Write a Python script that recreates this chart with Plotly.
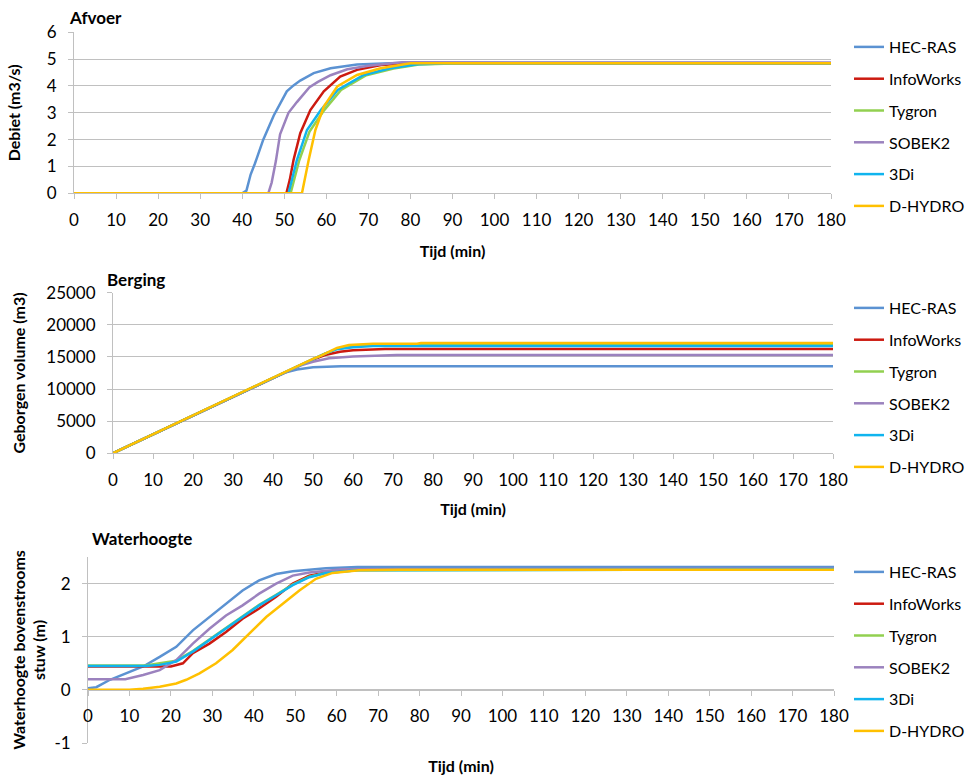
import plotly.graph_objects as go

W, H = 972, 775

series_names = ["HEC-RAS", "InfoWorks", "Tygron", "SOBEK2", "3Di", "D-HYDRO"]
series_colors = ["#5B92D2", "#CC1A10", "#92D050", "#9B82BE", "#10B4EE", "#FFC000"]
x_ticks = list(range(0, 181, 10))

# ---- Afvoer (Debiet m3/s) ----
afvoer_t_hecras = [0, 40, 41, 42, 43, 45, 47.5, 50.6, 52.2, 53.8, 57, 61, 67.3, 75, 85, 180]
afvoer_q_hecras = [0, 0, 0.1, 0.7, 1.1, 2.0, 2.9, 3.8, 4.02, 4.2, 4.48, 4.66, 4.8, 4.85, 4.87, 4.85]
afvoer_t_infoworks = [0, 50.5, 51.3, 52.2, 53.8, 56.2, 59.4, 63.3, 67.3, 73, 80, 180]
afvoer_q_infoworks = [0, 0, 0.5, 1.24, 2.24, 3.1, 3.8, 4.35, 4.6, 4.78, 4.85, 4.85]
afvoer_t_tygron = [0, 51.5, 53.5, 56, 59.5, 63.5, 69.5, 76, 82, 92, 180]
afvoer_q_tygron = [0, 0, 1.2, 2.3, 3.1, 3.85, 4.4, 4.65, 4.8, 4.85, 4.85]
afvoer_t_sobek2 = [0, 46.2, 47, 48, 49, 50, 51, 53, 56, 58, 61, 65, 70, 78, 180]
afvoer_q_sobek2 = [0, 0, 0.4, 1.2, 2.2, 2.6, 3.0, 3.4, 3.95, 4.15, 4.4, 4.62, 4.75, 4.88, 4.87]
afvoer_t_3di = [0, 51, 53, 55.4, 58.7, 62.7, 68.9, 75.2, 81.6, 90, 180]
afvoer_q_3di = [0, 0, 1.24, 2.36, 3.1, 3.85, 4.41, 4.66, 4.81, 4.85, 4.85]
afvoer_t_dhydro = [0, 54.2, 55.8, 57.4, 59.4, 62.6, 67.3, 72.9, 80, 180]
afvoer_q_dhydro = [0, 0, 1.24, 2.36, 3.23, 3.98, 4.41, 4.66, 4.85, 4.85]

# ---- Berging (Geborgen volume m3) ----
berging_t_hecras = [0, 10, 20, 30, 40, 43, 46, 50, 53, 57, 180]
berging_v_hecras = [0, 2950, 5850, 8750, 11700, 12550, 13050, 13400, 13500, 13550, 13550]
berging_t_infoworks = [0, 10, 20, 30, 40, 50, 53, 56.75, 60, 68, 180]
berging_v_infoworks = [0, 2950, 5850, 8750, 11700, 14600, 15300, 15800, 16050, 16250, 16250]
berging_t_tygron = [0, 10, 20, 30, 40, 50, 53, 56, 60, 65, 180]
berging_v_tygron = [0, 2950, 5850, 8750, 11700, 14650, 15500, 16250, 16600, 16850, 16850]
berging_t_sobek2 = [0, 10, 20, 30, 40, 47, 50, 54, 60, 71, 180]
berging_v_sobek2 = [0, 2950, 5850, 8750, 11700, 13700, 14250, 14780, 15050, 15300, 15300]
berging_t_3di = [0, 10, 20, 30, 40, 50, 53, 56, 60, 65, 180]
berging_v_3di = [0, 2950, 5850, 8750, 11700, 14650, 15500, 16200, 16500, 16700, 16700]
berging_t_dhydro = [0, 10, 20, 30, 40, 50, 52, 56, 59, 65, 76, 77, 180]
berging_v_dhydro = [0, 2950, 5850, 8750, 11700, 14700, 15200, 16400, 16850, 17050, 17050, 17150, 17150]

# ---- Waterhoogte (m) ----
water_t_hecras = [0, 2, 5.3, 9, 13.3, 17.3, 21.3, 25.3, 29.3, 33.3, 37.3, 41.3, 45.4, 49.4, 53, 57.4, 65, 180]
water_h_hecras = [0.03, 0.05, 0.19, 0.3, 0.44, 0.62, 0.81, 1.12, 1.37, 1.62, 1.87, 2.06, 2.18, 2.23, 2.26, 2.29, 2.31, 2.31]
water_t_infoworks = [0, 20, 22.9, 25.3, 29.3, 33.3, 37.3, 41.3, 45.4, 49.4, 53.4, 57.4, 65, 180]
water_h_infoworks = [0.44, 0.44, 0.5, 0.69, 0.87, 1.09, 1.34, 1.53, 1.75, 2.0, 2.15, 2.21, 2.26, 2.27]
water_t_tygron = [0, 14, 17.3, 21.3, 25.3, 29.3, 33.3, 37.3, 41.3, 45.4, 49.4, 53.4, 57.4, 65, 180]
water_h_tygron = [0.46, 0.46, 0.5, 0.55, 0.73, 0.95, 1.16, 1.38, 1.6, 1.79, 1.98, 2.13, 2.2, 2.25, 2.27]
water_t_sobek2 = [0, 9, 13.3, 17.3, 21.3, 25.3, 29.3, 33.3, 37.3, 41.3, 45.4, 49.4, 53.4, 61.4, 180]
water_h_sobek2 = [0.2, 0.2, 0.28, 0.37, 0.56, 0.87, 1.15, 1.40, 1.59, 1.81, 2.0, 2.15, 2.21, 2.27, 2.28]
water_t_3di = [0, 14, 17.3, 21.3, 25.3, 29.3, 33.3, 37.3, 41.3, 45.4, 49.4, 53.4, 57.4, 65, 180]
water_h_3di = [0.45, 0.45, 0.47, 0.53, 0.72, 0.94, 1.15, 1.37, 1.59, 1.78, 1.97, 2.12, 2.2, 2.25, 2.27]
water_t_dhydro = [0, 10, 13.3, 17.3, 21.3, 23.7, 26.9, 30.9, 34.9, 38.9, 43, 47, 51, 55, 59, 65.4, 75, 180]
water_h_dhydro = [0, 0, 0.02, 0.06, 0.12, 0.19, 0.31, 0.5, 0.75, 1.06, 1.37, 1.62, 1.87, 2.09, 2.2, 2.25, 2.26, 2.26]

water_ticks = [-1, 0, 1, 2]
water_ticktext = ["-1", "0", "1", "2"]

afvoer = [(afvoer_t_hecras, afvoer_q_hecras), (afvoer_t_infoworks, afvoer_q_infoworks),
          (afvoer_t_tygron, afvoer_q_tygron), (afvoer_t_sobek2, afvoer_q_sobek2),
          (afvoer_t_3di, afvoer_q_3di), (afvoer_t_dhydro, afvoer_q_dhydro)]
berging = [(berging_t_hecras, berging_v_hecras), (berging_t_infoworks, berging_v_infoworks),
           (berging_t_tygron, berging_v_tygron), (berging_t_sobek2, berging_v_sobek2),
           (berging_t_3di, berging_v_3di), (berging_t_dhydro, berging_v_dhydro)]
water = [(water_t_hecras, water_h_hecras), (water_t_infoworks, water_h_infoworks),
         (water_t_tygron, water_h_tygron), (water_t_sobek2, water_h_sobek2),
         (water_t_3di, water_h_3di), (water_t_dhydro, water_h_dhydro)]

FONT = "Lato, Carlito, Calibri, sans-serif"
GRID = "#C0C0C0"

def px_x(p):
    return p / W

def px_y(p):
    return (H - p) / H

fig = go.Figure()
panels = [(afvoer, "x", "y", "legend"), (berging, "x2", "y2", "legend2"), (water, "x3", "y3", "legend3")]
for data, xa, ya, lg in panels:
    for i, (t, v) in enumerate(data):
        fig.add_trace(go.Scatter(
            x=t, y=v, mode="lines", name=series_names[i],
            line=dict(color=series_colors[i], width=2.5),
            xaxis=xa, yaxis=ya, legend=lg, legendgroup=lg + str(i),
        ))

tickfont = dict(family=FONT, size=17, color="#000")
titlefont = dict(family=FONT, size=16, color="#000", weight="bold")

def xaxis(domain, anchor, position=None, standoff=12):
    d = dict(domain=domain, range=[0, 180], tickvals=x_ticks, showgrid=False,
             showline=True, linecolor=GRID, linewidth=1, ticks="outside", ticklen=5,
             tickcolor=GRID, tickfont=tickfont, zeroline=False, automargin=False,
             ticklabelstandoff=6,
             title=dict(text="Tijd (min)", font=titlefont, standoff=standoff),
             fixedrange=True)
    if position is None:
        d["anchor"] = anchor
    else:
        d["anchor"] = "free"
        d["position"] = position
    return d

def yaxis(domain, anchor, rng, dtick, title, standoff, **kw):
    d = dict(domain=domain, anchor=anchor, range=rng, dtick=dtick, showgrid=True,
             gridcolor=GRID, gridwidth=1, showline=True, linecolor=GRID, linewidth=1,
             ticks="outside", ticklen=5, tickcolor=GRID, tickfont=tickfont,
             zeroline=False, automargin=False, tickformat="d", ticklabelstandoff=8,
             title=dict(text=title, font=titlefont, standoff=standoff), fixedrange=True)
    d.update(kw)
    return d

# domains (pixel-based)
y1 = [px_y(193.3), px_y(32.3)]
y2 = [px_y(453.2), px_y(292.7)]
y3 = [px_y(743), px_y(557)]
x1 = [px_x(74), px_x(831)]
x2 = [px_x(113), px_x(833)]
x3 = [px_x(88), px_x(834)]
zero3 = y3[0] + (y3[1] - y3[0]) * (1 / 3.5)

legend_common = dict(font=dict(family=FONT, size=16, color="#000"), bgcolor="rgba(0,0,0,0)",
                     itemwidth=30, tracegroupgap=8, traceorder="grouped",
                     xanchor="left", yanchor="top", itemclick=False, itemdoubleclick=False)

fig.update_layout(
    width=W, height=H, margin=dict(l=0, r=0, t=0, b=0),
    paper_bgcolor="white", plot_bgcolor="white",
    font=dict(family=FONT, color="#000"),
    xaxis=xaxis(x1, "y", standoff=17),
    yaxis=yaxis(y1, "x", [0, 6], 1, "Debiet (m3/s)", 22),
    xaxis2=xaxis(x2, "y2", standoff=15),
    yaxis2=yaxis(y2, "x2", [0, 25000], 5000, "Geborgen volume (m3)", 16),
    xaxis3=xaxis(x3, "y3", position=zero3, standoff=42),
    yaxis3=yaxis(y3, "x3", [-1, 2.5], None, "Waterhoogte bovenstrooms<br>stuw (m)", 4,
                 tickvals=water_ticks, ticktext=water_ticktext),
    legend=dict(**legend_common, x=px_x(849), y=px_y(30)),
    legend2=dict(**legend_common, x=px_x(849), y=px_y(291)),
    legend3=dict(**legend_common, x=px_x(849), y=px_y(555)),
    showlegend=True,
    annotations=[
        dict(text="<b>Afvoer</b>", x=px_x(67), y=px_y(17), xref="paper", yref="paper",
             xanchor="left", yanchor="middle", showarrow=False, font=dict(family=FONT, size=17, color="#000")),
        dict(text="<b>Berging</b>", x=px_x(105), y=px_y(279), xref="paper", yref="paper",
             xanchor="left", yanchor="middle", showarrow=False, font=dict(family=FONT, size=17, color="#000")),
        dict(text="<b>Waterhoogte</b>", x=px_x(90), y=px_y(538), xref="paper", yref="paper",
             xanchor="left", yanchor="middle", showarrow=False, font=dict(family=FONT, size=17, color="#000")),
    ],
)

fig.write_html("out.html", config={"displayModeBar": False})
